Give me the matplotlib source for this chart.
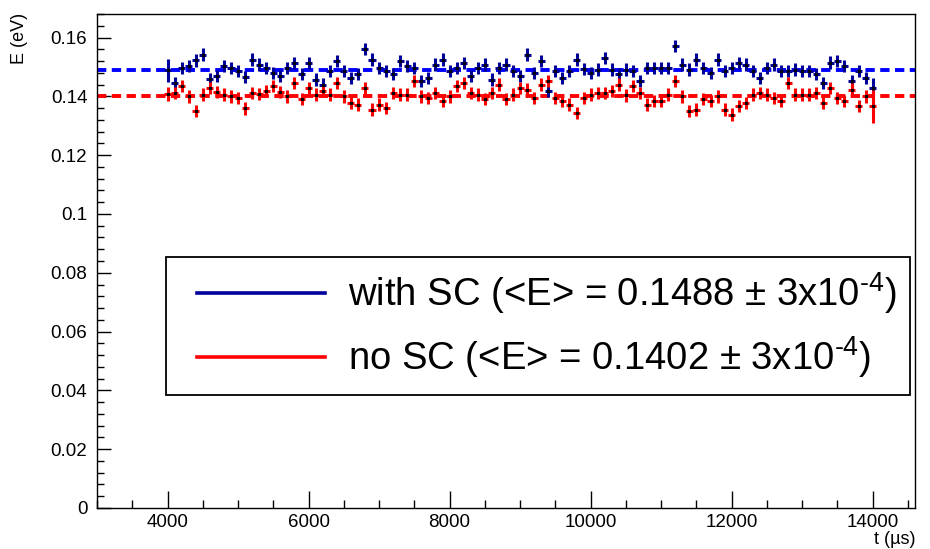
import matplotlib
matplotlib.use('Agg')
import matplotlib.pyplot as plt
import numpy as np
from matplotlib.ticker import MultipleLocator, FixedLocator, FixedFormatter
from matplotlib.patches import Rectangle

plt.rcParams['font.family'] = ['Liberation Sans', 'DejaVu Sans']
plt.rcParams['mathtext.fontset'] = 'custom'
plt.rcParams['mathtext.rm'] = 'Liberation Sans'
plt.rcParams['mathtext.it'] = 'Liberation Sans:italic'

# ---- data ----
t_start, t_stop, t_step = 4000, 14000, 100
t_us = np.arange(t_start, t_stop + 1, t_step)
half_bin = 50

E_with_sc = [
    0.1488, 0.1446, 0.1497, 0.1503, 0.1522, 0.1542, 0.1460, 0.1469, 0.1503, 0.1497,
    0.1486, 0.1466, 0.1525, 0.1508, 0.1497, 0.1480, 0.1469, 0.1497, 0.1514, 0.1477,
    0.1514, 0.1457, 0.1440, 0.1486, 0.1520, 0.1486, 0.1463, 0.1475, 0.1560, 0.1525,
    0.1497, 0.1486, 0.1475, 0.1520, 0.1503, 0.1497, 0.1452, 0.1463, 0.1508, 0.1525,
    0.1486, 0.1497, 0.1514, 0.1469, 0.1497, 0.1508, 0.1457, 0.1497, 0.1508, 0.1486,
    0.1469, 0.1542, 0.1480, 0.1520, 0.1418, 0.1486, 0.1463, 0.1486, 0.1525, 0.1492,
    0.1480, 0.1491, 0.1531, 0.1491, 0.1475, 0.1491, 0.1486, 0.1452, 0.1497, 0.1497,
    0.1497, 0.1497, 0.1571, 0.1508, 0.1491, 0.1525, 0.1497, 0.1480, 0.1525, 0.1486,
    0.1497, 0.1514, 0.1508, 0.1486, 0.1463, 0.1497, 0.1508, 0.1486, 0.1486, 0.1491,
    0.1486, 0.1486, 0.1475, 0.1446, 0.1515, 0.1520, 0.1503, 0.1452, 0.1486, 0.1463,
    0.1430,
]
E_no_sc = [
    0.1409, 0.1412, 0.1435, 0.1400, 0.1350, 0.1406, 0.1429, 0.1415, 0.1406, 0.1400,
    0.1395, 0.1359, 0.1412, 0.1409, 0.1418, 0.1435, 0.1415, 0.1400, 0.1446, 0.1390,
    0.1429, 0.1406, 0.1418, 0.1406, 0.1446, 0.1400, 0.1378, 0.1372, 0.1429, 0.1355,
    0.1372, 0.1361, 0.1412, 0.1406, 0.1406, 0.1452, 0.1400, 0.1395, 0.1412, 0.1384,
    0.1400, 0.1435, 0.1446, 0.1412, 0.1406, 0.1390, 0.1412, 0.1440, 0.1390, 0.1406,
    0.1429, 0.1423, 0.1395, 0.1440, 0.1452, 0.1395, 0.1384, 0.1372, 0.1344, 0.1395,
    0.1406, 0.1412, 0.1412, 0.1418, 0.1440, 0.1403, 0.1435, 0.1412, 0.1372, 0.1384,
    0.1384, 0.1406, 0.1452, 0.1400, 0.1350, 0.1355, 0.1390, 0.1384, 0.1400, 0.1355,
    0.1338, 0.1367, 0.1378, 0.1406, 0.1412, 0.1406, 0.1395, 0.1384, 0.1446, 0.1406,
    0.1406, 0.1406, 0.1412, 0.1378, 0.1429, 0.1395, 0.1384, 0.1423, 0.1367, 0.1400,
    0.1366,
]
err_typ = 0.0021
err_with_sc = [0.0040] + [err_typ] * 99 + [0.0032]
err_no_sc = [0.0024] + [err_typ] * 99 + [0.0056]

mean_with_sc = 0.1488
mean_no_sc = 0.1402
label_with = 'with SC (<E> = 0.1488 $\\pm$ 3x10$^{\u2010 4}$)'
label_no = 'no SC (<E> = 0.1402 $\\pm$ 3x10$^{\u2010 4}$)'

x_min, x_max = 3000, 14600
y_min, y_max = 0.0, 0.168
y_ticks = [0, 0.02, 0.04, 0.06, 0.08, 0.1, 0.12, 0.14, 0.16]
y_ticklabels = ['0', '0.02', '0.04', '0.06', '0.08', '0.1', '0.12', '0.14', '0.16']
x_ticks = [4000, 6000, 8000, 10000, 12000, 14000]

BLUE_PT = '#00009a'
BLUE_LN = '#0000ff'
RED = '#ff0000'

# ---- figure ----
fig = plt.figure(figsize=(9.30, 5.49), dpi=100)
ax = fig.add_axes([97/930, 1-508/549, (915-97)/930, (508-14)/549])

ax.set_xlim(x_min, x_max)
ax.set_ylim(y_min, y_max)

# mean lines
ax.axhline(mean_with_sc, color=BLUE_LN, lw=2.8, dashes=(2.4, 1.4), zorder=2)
ax.axhline(mean_no_sc, color=RED, lw=2.8, dashes=(2.4, 1.4), zorder=2)

# data points
ax.errorbar(t_us, E_with_sc, xerr=half_bin, yerr=err_with_sc, fmt='none',
            ecolor=BLUE_PT, elinewidth=2.2, capsize=0, zorder=3)
ax.plot(t_us, E_with_sc, ls='none', marker='s', ms=1.3, color='black', zorder=4)
ax.errorbar(t_us, E_no_sc, xerr=half_bin, yerr=err_no_sc, fmt='none',
            ecolor=RED, elinewidth=2.2, capsize=0, zorder=3)
ax.plot(t_us, E_no_sc, ls='none', marker='s', ms=1.3, color='black', zorder=4)

# ticks
ax.yaxis.set_major_locator(FixedLocator(y_ticks))
ax.yaxis.set_major_formatter(FixedFormatter(y_ticklabels))
ax.yaxis.set_minor_locator(MultipleLocator(0.004))
ax.xaxis.set_major_locator(FixedLocator(x_ticks))
ax.xaxis.set_minor_locator(MultipleLocator(500))
ax.tick_params(axis='both', which='both', direction='in', top=False, right=False,
               width=1.0, colors='black')
ax.tick_params(axis='y', which='major', length=10, pad=7, labelsize=13.5)
ax.tick_params(axis='y', which='minor', length=5)
ax.tick_params(axis='x', which='major', length=12, pad=4, labelsize=13.5)
ax.tick_params(axis='x', which='minor', length=6)
for s in ax.spines.values():
    s.set_linewidth(1.0)

# axis titles (ROOT style, at ends)
fig.text(19/930, 1-13/549, 'E (eV)', rotation=90, ha='center', va='top', fontsize=13)
fig.text(915/930, 1/549, 't (\u00b5s)', ha='right', va='bottom', fontsize=13)

# legend box
lx0, ly0 = (166-97)/818, (508-395)/494
lw_, lh_ = (910-166)/818, (395-257)/494
ax.add_patch(Rectangle((lx0, ly0), lw_, lh_, transform=ax.transAxes,
                       facecolor='white', edgecolor='black', lw=1.3, zorder=5))
y_row1 = (508-293)/494
y_row2 = (508-357)/494
hx0, hx1 = (197-97)/818, (325-97)/818
tx = (348-97)/818
ax.plot([hx0, hx1], [y_row1, y_row1], transform=ax.transAxes, color=BLUE_PT, lw=2.6, zorder=6)
ax.plot([hx0, hx1], [y_row2, y_row2], transform=ax.transAxes, color=RED, lw=2.6, zorder=6)
ax.text(tx, y_row1, label_with, transform=ax.transAxes, ha='left', va='center',
        fontsize=27.5, zorder=6)
ax.text(tx, y_row2, label_no, transform=ax.transAxes, ha='left', va='center',
        fontsize=27.5, zorder=6)

fig.savefig('out.png', dpi=100)
